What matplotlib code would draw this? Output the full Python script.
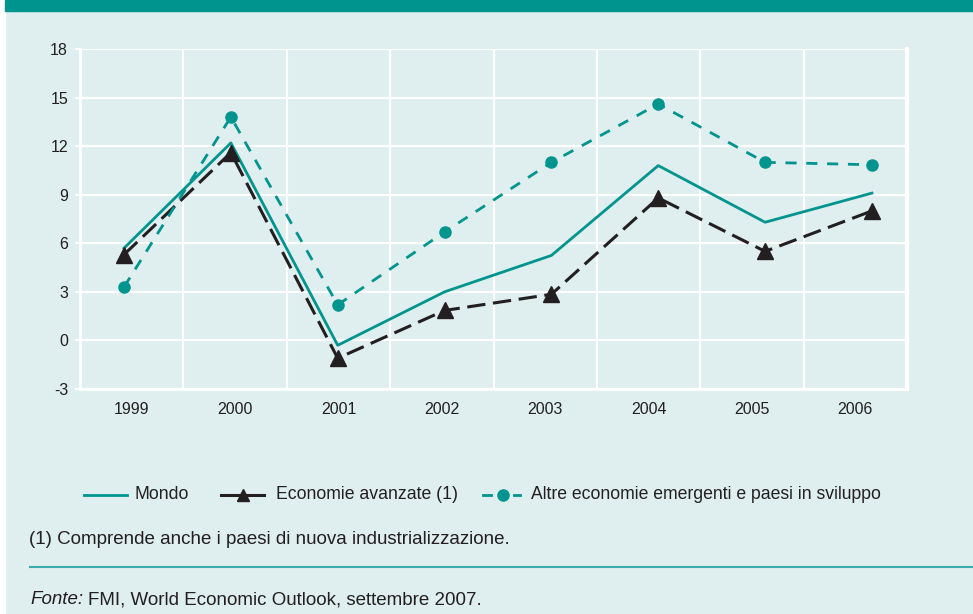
import matplotlib
matplotlib.use("Agg")
import matplotlib.pyplot as plt
from matplotlib.lines import Line2D
from matplotlib.patches import Rectangle
import numpy as np

plt.rcParams['font.family'] = ['Liberation Sans', 'DejaVu Sans']
plt.rcParams['axes.unicode_minus'] = False

years = ["1999", "2000", "2001", "2002", "2003", "2004", "2005", "2006"]
mondo = [5.7, 12.2, -0.3, 3.0, 5.25, 10.8, 7.3, 9.1]
avanzate = [5.3, 11.6, -1.1, 1.85, 2.85, 8.8, 5.5, 8.0]
emergenti = [3.3, 13.8, 2.2, 6.7, 11.0, 14.6, 11.0, 10.85]
yticks = [-3, 0, 3, 6, 9, 12, 15, 18]

labels = ["Mondo", "Economie avanzate (1)", "Altre economie emergenti e paesi in sviluppo"]
footnote = "(1) Comprende anche i paesi di nuova industrializzazione."
source_it = "Fonte:"
source = "FMI, World Economic Outlook, settembre 2007."

BG = "#dfeeee"
TEAL = "#00948f"
DARK = "#231f20"

W, H = 973, 614
fig = plt.figure(figsize=(W / 100, H / 100), dpi=100)
fig.patch.set_facecolor(BG)

def fx(px):
    return px / W

def fy(py):
    return 1 - py / H

# left white strip and top teal band
fig.add_artist(Rectangle((0, 0), fx(5), 1, transform=fig.transFigure, color="white", zorder=0))
fig.add_artist(Rectangle((fx(5), fy(11)), 1, 11 / H, transform=fig.transFigure, color=TEAL, zorder=0))

ax = fig.add_axes([fx(80), fy(389), (907 - 80) / W, (389 - 49) / H])
ax.set_facecolor(BG)

x = np.arange(len(years))
x0, x1 = -0.412, 7.328
ax.set_xlim(x0, x1)
ax.set_ylim(-3, 18)

# grid: vertical separators between categories, horizontal at y ticks
step = (x1 - x0) / len(years)
for k in range(1, len(years)):
    ax.axvline(x0 + k * step, color="white", lw=1.6, zorder=1)
for yv in yticks:
    ax.axhline(yv, color="white", lw=1.6, zorder=1)

ax.set_xticks([x0 + (k + 0.5) * step for k in range(len(years))])
ax.set_xticklabels(years)
ax.set_yticks(yticks)
ax.tick_params(axis="x", length=0, pad=9, labelsize=11.5, colors=DARK)
ax.tick_params(axis="y", length=3.6, width=1.5, color="white", pad=5, labelsize=11.5, labelcolor=DARK)

ax.spines["top"].set_visible(False)
ax.spines["left"].set_color("white")
ax.spines["left"].set_linewidth(2)
ax.spines["bottom"].set_color("white")
ax.spines["bottom"].set_linewidth(2)
ax.spines["right"].set_color("white")
ax.spines["right"].set_linewidth(3)

ax.plot(x, mondo, color=TEAL, lw=2.0, zorder=3, label=labels[0])
ax.plot(x, avanzate, color=DARK, lw=2.2, dashes=(6, 2.5), marker="^", ms=11,
        markerfacecolor=DARK, markeredgecolor=DARK, zorder=4, label=labels[1])
ax.plot(x, emergenti, color=TEAL, lw=2.0, dashes=(4, 3.5), marker="o", ms=8,
        markerfacecolor=TEAL, markeredgecolor=TEAL, zorder=4, label=labels[2])

# legend drawn by hand in figure coordinates
ly = fy(494.5)
fig.add_artist(Line2D([fx(84), fx(127)], [ly, ly], transform=fig.transFigure, color=TEAL, lw=2.0))
fig.text(fx(135), ly, labels[0], fontsize=12.7, color=DARK, va="center", ha="left")
fig.add_artist(Line2D([fx(221), fx(264)], [ly, ly], transform=fig.transFigure, color=DARK, lw=2.2))
fig.add_artist(Line2D([fx(242.5)], [ly], transform=fig.transFigure, color=DARK, marker="^", ms=9, lw=0))
fig.text(fx(276), ly, labels[1], fontsize=12.7, color=DARK, va="center", ha="left")
fig.add_artist(Line2D([fx(483), fx(491)], [ly, ly], transform=fig.transFigure, color=TEAL, lw=2.0))
fig.add_artist(Line2D([fx(503)], [ly], transform=fig.transFigure, color=TEAL, marker="o", ms=8, lw=0))
fig.add_artist(Line2D([fx(514), fx(520)], [ly, ly], transform=fig.transFigure, color=TEAL, lw=2.0))
fig.text(fx(531), ly, labels[2], fontsize=12.7, color=DARK, va="center", ha="left")

fig.text(fx(29), fy(540), footnote, fontsize=13.5, color=DARK, va="center", ha="left")
fig.add_artist(Line2D([fx(30), 1], [fy(567), fy(567)], transform=fig.transFigure,
                      color="#3aaba8", lw=1.5))
fig.text(fx(30), fy(600), source_it, fontsize=13.5, color=DARK, va="center",
         ha="left", style="italic")
fig.text(fx(88), fy(600), source, fontsize=13.5, color=DARK, va="center", ha="left")

fig.savefig("out.png", dpi=100, facecolor=fig.get_facecolor())
